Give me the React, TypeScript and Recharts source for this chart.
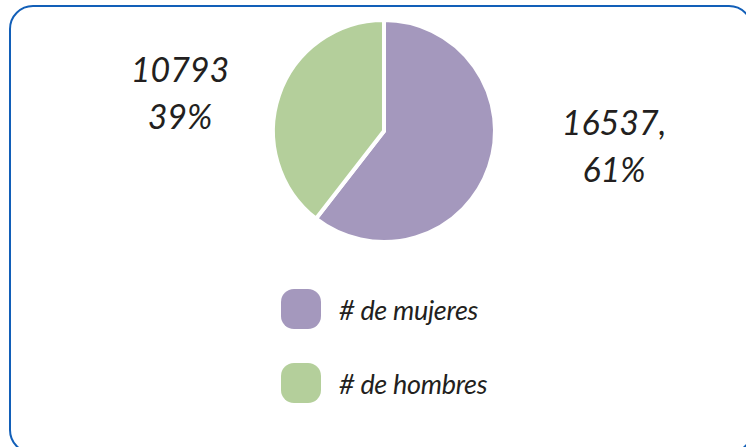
import React from 'react';
import { PieChart, Pie, Cell, Legend } from 'recharts';

const categories = ['# de mujeres', '# de hombres'];
const values = [16537, 10793];
const percentLabels = ['61%', '39%'];
const valueLabels = ['16537,', '10793'];
const colors = ['#a498bd', '#b4cf9b'];

const data = categories.map((name, i) => ({ name, value: values[i] }));

const FONT = 'Lato, "Open Sans", sans-serif';

const renderLabel = (props: any) => {
  const { cx, cy, index } = props;
  const right = index === 0;
  const x = right ? cx + 230 : cx - 204;
  const y1 = right ? cy + 4 : cy - 49;
  return (
    <text
      x={x}
      y={y1}
      textAnchor="middle"
      fill="#231f20"
      fontFamily={FONT}
      fontStyle="italic"
      fontSize={34}
    >
      <tspan x={x} dy={0}>{valueLabels[index]}</tspan>
      <tspan x={x} dy={47}>{percentLabels[index]}</tspan>
    </text>
  );
};

const renderLegend = (props: any) => {
  const { payload } = props;
  return (
    <div>
      {(payload || []).map((entry: any, i: number) => (
        <div
          key={i}
          style={{ display: 'flex', alignItems: 'center', height: 40, marginBottom: i === 0 ? 34 : 0 }}
        >
          <div
            style={{
              width: 40,
              height: 40,
              borderRadius: 13,
              background: colors[i],
              marginRight: 18,
            }}
          />
          <span
            style={{
              fontFamily: FONT,
              fontStyle: 'italic',
              fontSize: 27,
              color: '#231f20',
              whiteSpace: 'nowrap',
              letterSpacing: -0.3,
            }}
          >
            {categories[i]}
          </span>
        </div>
      ))}
    </div>
  );
};

export default function App() {
  return (
    <div
      style={{
        position: 'fixed',
        left: 0,
        top: 0,
        width: 746,
        height: 447,
        overflow: 'hidden',
        background: '#ffffff',
      }}
    >
      <div
        style={{
          position: 'absolute',
          left: 9,
          top: 5,
          width: 740,
          height: 445,
          border: '2.5px solid #125fb8',
          borderRadius: 24,
        }}
      />
      <div style={{ position: 'absolute', left: 0, top: 0 }}>
        <PieChart width={746} height={447} margin={{ top: 0, right: 0, bottom: 0, left: 0 }}>
          <Pie
            data={data}
            dataKey="value"
            nameKey="name"
            cx={384}
            cy={131}
            outerRadius={111}
            startAngle={90}
            endAngle={-270}
            stroke="#ffffff"
            strokeWidth={4}
            label={renderLabel}
            labelLine={false}
            isAnimationActive={false}
          >
            {data.map((d, i) => (
              <Cell key={d.name} fill={colors[i]} />
            ))}
          </Pie>
          <Legend
            content={renderLegend}
            layout="vertical"
            wrapperStyle={{ position: 'absolute', left: 281, top: 289, width: 260 }}
          />
        </PieChart>
      </div>
    </div>
  );
}
